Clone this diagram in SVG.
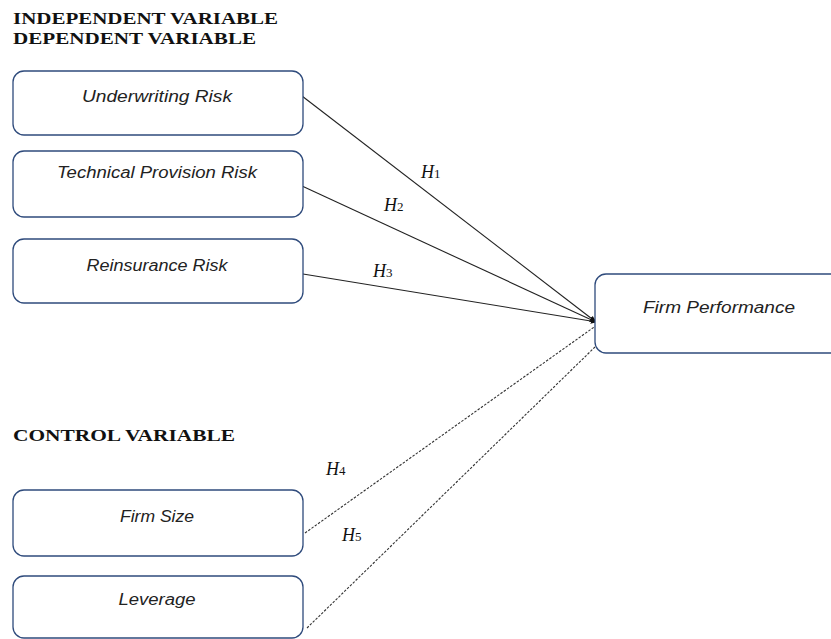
<svg xmlns="http://www.w3.org/2000/svg" width="831" height="639" viewBox="0 0 831 639">
<style>
.box{fill:#fff;stroke:#2f4b7c;stroke-width:1.3}
.lbl{font-family:"Liberation Sans",Arial,sans-serif;font-style:italic;font-size:16px;fill:#222;text-anchor:middle}
.hdr{font-family:"Liberation Serif","Times New Roman",serif;font-weight:bold;font-size:16px;fill:#111}
.h{font-family:"Liberation Serif","Times New Roman",serif;font-style:italic;font-size:18px;fill:#111}
.sub{font-style:normal;font-size:13px}
.solid{stroke:#222;stroke-width:1.1;fill:none}
.dash{stroke:#333;stroke-width:1.1;fill:none;stroke-dasharray:2.5 1.5}
</style>
<defs>
<marker id="arr" viewBox="0 0 10 10" refX="9" refY="5" markerWidth="7" markerHeight="7" orient="auto" markerUnits="userSpaceOnUse">
<path d="M0,1 L10,5 L0,9 z" fill="#111"/>
</marker>
</defs>
<rect width="831" height="639" fill="#fff"/>
<g id="headers">
<text class="hdr" x="13" y="24" textLength="265" lengthAdjust="spacingAndGlyphs">INDEPENDENT VARIABLE</text>
<text class="hdr" x="13" y="44" textLength="243" lengthAdjust="spacingAndGlyphs">DEPENDENT VARIABLE</text>
<text class="hdr" x="13" y="441" textLength="222" lengthAdjust="spacingAndGlyphs">CONTROL VARIABLE</text>
</g>
<g id="connectors">
<line class="solid" x1="302" y1="96" x2="596" y2="322" marker-end="url(#arr)"/>
<line class="solid" x1="302" y1="186" x2="596" y2="322" marker-end="url(#arr)"/>
<line class="solid" x1="303" y1="274" x2="597" y2="322" marker-end="url(#arr)"/>
<line class="dash" x1="305" y1="533" x2="597" y2="325"/>
<line class="dash" x1="307" y1="628" x2="595" y2="347"/>
<text class="h" x="421" y="178">H<tspan class="sub">1</tspan></text>
<text class="h" x="384" y="211">H<tspan class="sub">2</tspan></text>
<text class="h" x="373" y="277">H<tspan class="sub">3</tspan></text>
<text class="h" x="326" y="475">H<tspan class="sub">4</tspan></text>
<text class="h" x="342" y="541">H<tspan class="sub">5</tspan></text>
</g>
<g id="underwriting">
<rect class="box" x="13" y="71" width="290" height="64" rx="11"/>
<text class="lbl" x="157" y="102" textLength="150" lengthAdjust="spacingAndGlyphs">Underwriting Risk</text>
</g>
<g id="technical">
<rect class="box" x="13" y="151" width="290" height="66" rx="11"/>
<text class="lbl" x="157" y="178" textLength="200" lengthAdjust="spacingAndGlyphs">Technical Provision Risk</text>
</g>
<g id="reinsurance">
<rect class="box" x="13" y="239" width="290" height="64" rx="11"/>
<text class="lbl" x="157" y="271" textLength="141" lengthAdjust="spacingAndGlyphs">Reinsurance Risk</text>
</g>
<g id="firmperformance">
<rect class="box" x="595" y="274" width="260" height="79" rx="11"/>
<text class="lbl" x="719" y="313" textLength="152" lengthAdjust="spacingAndGlyphs">Firm Performance</text>
</g>
<g id="firmsize">
<rect class="box" x="13" y="490" width="290" height="66" rx="11"/>
<text class="lbl" x="157" y="522" textLength="74" lengthAdjust="spacingAndGlyphs">Firm Size</text>
</g>
<g id="leverage">
<rect class="box" x="13" y="576" width="290" height="62" rx="11"/>
<text class="lbl" x="157" y="605" textLength="77" lengthAdjust="spacingAndGlyphs">Leverage</text>
</g>
</svg>
